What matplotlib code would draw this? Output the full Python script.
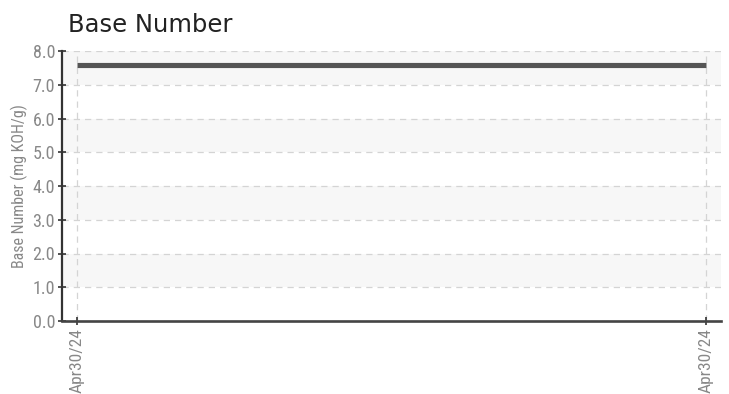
import matplotlib
matplotlib.use("Agg")
import matplotlib.pyplot as plt

dates = ["Apr30/24", "Apr30/24"]
values = [7.6, 7.6]
y_ticks = [0.0, 1.0, 2.0, 3.0, 4.0, 5.0, 6.0, 7.0, 8.0]

narrow = "Roboto Condensed"

fig = plt.figure(figsize=(7.29, 3.94), dpi=100)
ax = fig.add_axes([62/729, 1-321/394, (721-62)/729, (321-51)/394])

# alternating bands
for lo in [1, 3, 5, 7]:
    ax.axhspan(lo, lo + 1, color="#f7f7f7", zorder=0, lw=0)

x = list(range(len(values)))
ax.plot(x, values, color="#555555", lw=3.7, solid_capstyle="butt", zorder=3)

ax.set_xlim(-15/629, 1 + 15/629)
ax.set_ylim(0, 8)
ax.set_yticks(y_ticks)
ax.set_yticklabels([f"{v:.1f}" for v in y_ticks], fontfamily=narrow, fontsize=13, color="#888888")
ax.set_xticks(x)
ax.set_xticklabels(dates, rotation=90, fontfamily=narrow, fontsize=12.5, color="#888888")

ax.grid(True, color="#d4d4d4", linestyle=(0, (5, 4)), lw=0.9, zorder=1)
for s in ["top", "right"]:
    ax.spines[s].set_visible(False)
ax.spines["left"].set_color("#333333")
ax.spines["left"].set_linewidth(1.6)
ax.spines["bottom"].set_color("#444444")
ax.spines["bottom"].set_linewidth(1.9)
ax.tick_params(axis="both", direction="inout", length=6, width=1.2, color="#333333", pad=2)

ax.set_ylabel("Base Number (mg KOH/g)", fontfamily=narrow, fontsize=11.5, color="#888888", labelpad=3)
fig.text(68/729, 1-32/394, "Base Number", fontsize=17.5, color="#222222", va="baseline", ha="left")

fig.savefig("out.png", dpi=100)
